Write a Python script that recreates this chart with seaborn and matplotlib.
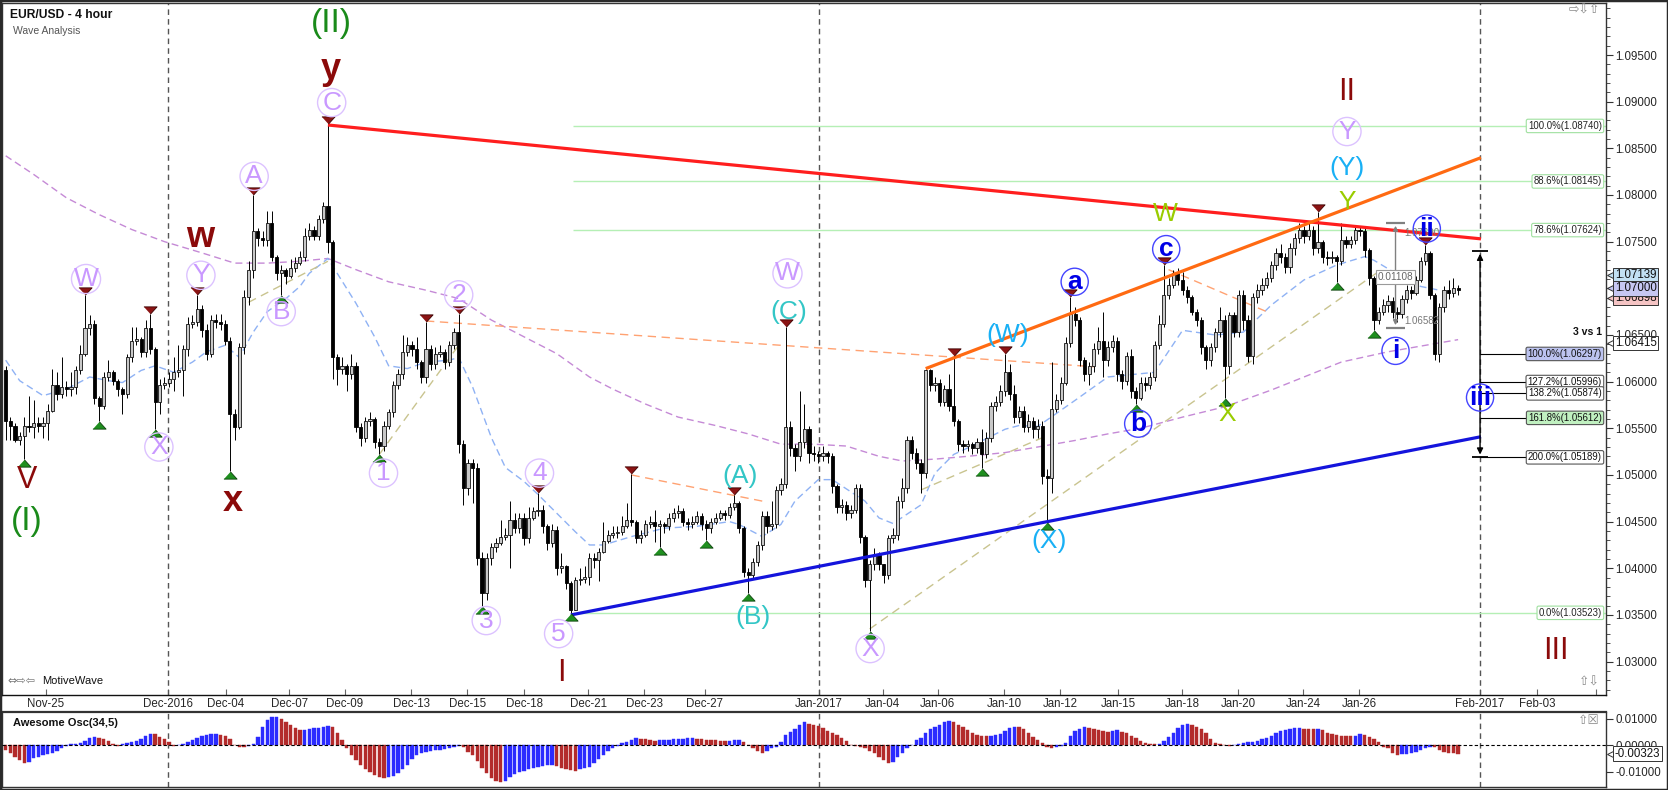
import numpy as np
import matplotlib
matplotlib.use("Agg")
import matplotlib.pyplot as plt
from matplotlib.transforms import offset_copy
from matplotlib.patches import Rectangle
from matplotlib.ticker import MultipleLocator, FormatStrFormatter, FixedLocator
import seaborn as sns

sns.set_style("white")
plt.rcParams["font.family"] = ["Liberation Sans", "DejaVu Sans"]
plt.rcParams["axes.unicode_minus"] = False

# ---------------- data (prices in pips = price * 10000) ----------------
OPEN0 = 10612
CLOSE = [
    10558, 10553, 10538, 10542, 10553, 10551, 10556, 10553, 10556, 10569,
    10596, 10587, 10594, 10592, 10594, 10612, 10630, 10657, 10662, 10583,
    10574, 10605, 10610, 10601, 10592, 10587, 10626, 10644, 10646, 10632,
    10657, 10635, 10578, 10596, 10599, 10603, 10610, 10612, 10635, 10662,
    10664, 10678, 10655, 10630, 10666, 10664, 10662, 10644, 10565, 10551,
    10637, 10691, 10720, 10761, 10754, 10752, 10770, 10734, 10716, 10720,
    10713, 10722, 10727, 10734, 10756, 10763, 10756, 10774, 10788, 10750,
    10626, 10614, 10617, 10608, 10617, 10551, 10540, 10558, 10560, 10535,
    10531, 10553, 10567, 10596, 10608, 10632, 10639, 10635, 10621, 10605,
    10635, 10619, 10630, 10632, 10621, 10639, 10653, 10533, 10486, 10513,
    10508, 10411, 10373, 10411, 10423, 10427, 10434, 10436, 10452, 10443,
    10454, 10432, 10454, 10461, 10463, 10445, 10427, 10441, 10400, 10402,
    10384, 10355, 10387, 10389, 10391, 10411, 10409, 10418, 10429, 10436,
    10438, 10439, 10445, 10452, 10450, 10432, 10436, 10447, 10450, 10445,
    10447, 10445, 10454, 10459, 10461, 10450, 10447, 10450, 10456, 10447,
    10443, 10450, 10454, 10459, 10457, 10466, 10470, 10443, 10396, 10393,
    10407, 10425, 10456, 10445, 10447, 10484, 10490, 10551, 10529, 10520,
    10535, 10549, 10524, 10522, 10520, 10524, 10520, 10488, 10466, 10468,
    10459, 10463, 10486, 10434, 10387, 10405, 10414, 10405, 10393, 10432,
    10436, 10472, 10486, 10538, 10524, 10513, 10502, 10612, 10596, 10599,
    10578, 10592, 10574, 10558, 10533, 10531, 10533, 10529, 10535, 10522,
    10540, 10574, 10578, 10590, 10610, 10587, 10562, 10569, 10551, 10558,
    10549, 10553, 10499, 10497, 10571, 10580, 10599, 10641, 10673, 10666,
    10623, 10608, 10617, 10635, 10644, 10623, 10637, 10644, 10608, 10601,
    10628, 10590, 10583, 10599, 10596, 10605, 10639, 10662, 10693, 10704,
    10716, 10709, 10698, 10691, 10675, 10666, 10637, 10623, 10637, 10653,
    10666, 10617, 10671, 10653, 10693, 10666, 10628, 10691, 10698, 10704,
    10711, 10725, 10738, 10734, 10723, 10743, 10754, 10763, 10756, 10763,
    10743, 10750, 10734, 10732, 10734, 10729, 10752, 10747, 10752, 10763,
    10761, 10741, 10711, 10666, 10675, 10682, 10686, 10675, 10673, 10689,
    10698, 10695, 10709, 10729, 10738, 10693, 10630, 10680, 10698, 10695,
    10700, 10698]
HIGH = [
    10617, 10562, 10556, 10546, 10562, 10585, 10580, 10562, 10562, 10576,
    10614, 10610, 10626, 10601, 10610, 10617, 10639, 10693, 10671, 10666,
    10585, 10610, 10623, 10612, 10603, 10594, 10630, 10659, 10659, 10648,
    10666, 10673, 10637, 10603, 10605, 10610, 10626, 10639, 10639, 10669,
    10671, 10693, 10682, 10662, 10671, 10673, 10673, 10666, 10648, 10571,
    10641, 10698, 10729, 10800, 10765, 10761, 10783, 10783, 10736, 10725,
    10722, 10731, 10734, 10740, 10765, 10770, 10767, 10779, 10792, 10876,
    10752, 10630, 10626, 10619, 10630, 10621, 10556, 10562, 10567, 10562,
    10540, 10558, 10571, 10601, 10614, 10650, 10648, 10644, 10648, 10623,
    10664, 10639, 10637, 10639, 10635, 10644, 10657, 10673, 10538, 10517,
    10517, 10513, 10418, 10416, 10427, 10432, 10452, 10443, 10472, 10459,
    10459, 10459, 10466, 10466, 10481, 10468, 10447, 10447, 10445, 10416,
    10404, 10386, 10391, 10400, 10402, 10416, 10416, 10422, 10450, 10441,
    10445, 10445, 10456, 10470, 10501, 10452, 10441, 10452, 10456, 10463,
    10452, 10450, 10459, 10465, 10468, 10465, 10454, 10456, 10461, 10459,
    10452, 10454, 10459, 10463, 10463, 10470, 10479, 10472, 10445, 10400,
    10411, 10429, 10461, 10461, 10472, 10488, 10497, 10659, 10558, 10533,
    10590, 10576, 10553, 10531, 10526, 10531, 10526, 10524, 10490, 10474,
    10472, 10468, 10490, 10490, 10436, 10409, 10422, 10418, 10405, 10436,
    10443, 10477, 10497, 10542, 10542, 10529, 10517, 10614, 10614, 10605,
    10603, 10596, 10608, 10628, 10560, 10538, 10538, 10535, 10540, 10549,
    10546, 10578, 10585, 10596, 10630, 10619, 10596, 10574, 10574, 10565,
    10562, 10560, 10558, 10506, 10621, 10587, 10605, 10648, 10691, 10680,
    10669, 10626, 10621, 10641, 10659, 10675, 10644, 10650, 10648, 10612,
    10632, 10635, 10594, 10605, 10605, 10610, 10644, 10671, 10725, 10711,
    10720, 10722, 10718, 10702, 10693, 10678, 10669, 10639, 10641, 10657,
    10680, 10671, 10675, 10675, 10698, 10698, 10671, 10695, 10705, 10711,
    10718, 10729, 10743, 10747, 10738, 10749, 10759, 10770, 10767, 10770,
    10767, 10782, 10752, 10740, 10740, 10736, 10770, 10756, 10756, 10767,
    10767, 10765, 10743, 10713, 10680, 10689, 10693, 10691, 10680, 10693,
    10704, 10702, 10713, 10734, 10746, 10740, 10695, 10684, 10702, 10709,
    10711, 10704]
LOW = [
    10538, 10538, 10535, 10532, 10517, 10546, 10540, 10546, 10540, 10538,
    10567, 10580, 10583, 10585, 10585, 10587, 10608, 10628, 10650, 10576,
    10558, 10571, 10601, 10596, 10585, 10565, 10583, 10621, 10639, 10626,
    10626, 10630, 10549, 10565, 10592, 10594, 10590, 10605, 10585, 10628,
    10657, 10660, 10648, 10623, 10626, 10657, 10655, 10639, 10504, 10538,
    10549, 10630, 10682, 10711, 10745, 10745, 10745, 10729, 10709, 10693,
    10705, 10711, 10718, 10725, 10729, 10752, 10752, 10752, 10770, 10738,
    10603, 10596, 10608, 10590, 10603, 10546, 10531, 10535, 10553, 10529,
    10522, 10526, 10549, 10562, 10592, 10603, 10628, 10628, 10614, 10599,
    10599, 10612, 10614, 10626, 10614, 10617, 10635, 10524, 10468, 10479,
    10470, 10404, 10360, 10366, 10404, 10418, 10425, 10430, 10400, 10438,
    10438, 10425, 10427, 10452, 10456, 10438, 10420, 10423, 10393, 10395,
    10378, 10352, 10356, 10382, 10384, 10382, 10400, 10386, 10416, 10427,
    10432, 10432, 10436, 10443, 10445, 10427, 10427, 10434, 10443, 10428,
    10423, 10438, 10441, 10450, 10454, 10445, 10441, 10443, 10447, 10441,
    10430, 10438, 10447, 10452, 10452, 10454, 10463, 10438, 10391, 10373,
    10389, 10402, 10420, 10438, 10441, 10443, 10479, 10486, 10520, 10504,
    10515, 10529, 10513, 10515, 10513, 10515, 10513, 10481, 10459, 10459,
    10452, 10454, 10459, 10427, 10380, 10333, 10398, 10398, 10384, 10389,
    10427, 10430, 10465, 10481, 10517, 10506, 10481, 10497, 10590, 10590,
    10574, 10574, 10569, 10553, 10526, 10524, 10526, 10522, 10524, 10508,
    10518, 10535, 10569, 10574, 10585, 10580, 10556, 10556, 10546, 10546,
    10540, 10540, 10490, 10450, 10481, 10567, 10576, 10596, 10637, 10660,
    10617, 10601, 10596, 10610, 10630, 10605, 10617, 10632, 10601, 10592,
    10596, 10583, 10576, 10580, 10590, 10592, 10601, 10635, 10659, 10689,
    10700, 10704, 10693, 10684, 10671, 10660, 10630, 10614, 10617, 10632,
    10648, 10583, 10608, 10648, 10648, 10655, 10621, 10619, 10684, 10693,
    10700, 10707, 10720, 10727, 10716, 10716, 10736, 10749, 10749, 10752,
    10736, 10738, 10727, 10725, 10727, 10707, 10725, 10743, 10743, 10747,
    10756, 10734, 10704, 10655, 10662, 10671, 10675, 10668, 10664, 10668,
    10684, 10689, 10693, 10707, 10725, 10689, 10623, 10621, 10675, 10689,
    10691, 10693]

# Awesome Oscillator (34,5), in pips
AO = [
    -18, -30, -43, -56, -66, -62, -49, -43, -37, -33,
    -28, -20, -11, -3, 4, 5, 10, 16, 27, 30,
    28, 24, 16, 6, -1, 5, 8, 11, 18, 25,
    36, 44, 42, 30, 23, 13, -1, 3, 4, 11,
    20, 29, 36, 39, 42, 43, 39, 36, 24, 3,
    -5, -8, -3, 4, 33, 68, 96, 107, 109, 99,
    90, 77, 67, 58, 60, 62, 65, 67, 70, 73,
    68, 46, 20, -11, -37, -56, -75, -90, -101, -113,
    -120, -123, -120, -117, -106, -91, -75, -53, -38, -30,
    -24, -20, -19, -16, -14, -11, -5, -3, -8, -24,
    -37, -58, -85, -106, -125, -135, -141, -134, -122, -110,
    -103, -97, -91, -86, -81, -77, -76, -75, -79, -85,
    -89, -94, -96, -91, -87, -81, -66, -52, -37, -20,
    -10, -3, 10, 14, 20, 27, 25, 23, 20, 16,
    19, 20, 22, 23, 24, 25, 27, 28, 25, 24,
    22, 20, 19, 18, 16, 18, 20, 22, 11, 0,
    -11, -22, -30, -20, -11, -5, 14, 39, 52, 61,
    77, 90, 81, 77, 73, 65, 56, 48, 39, 27,
    18, 1, -3, -5, -11, -20, -30, -43, -56, -66,
    -62, -43, -30, -11, 1, 20, 29, 46, 61, 68,
    77, 90, 92, 89, 79, 68, 58, 46, 38, 35,
    34, 35, 39, 44, 56, 66, 71, 70, 61, 46,
    33, 20, 8, -5, -11, -5, -3, 8, 35, 54,
    63, 68, 65, 62, 58, 56, 52, 54, 57, 52,
    46, 37, 29, 16, 10, 6, 4, 5, 16, 30,
    48, 65, 76, 81, 77, 68, 61, 46, 23, 10,
    5, 0, -3, 1, 6, 9, 11, 14, 18, 23,
    27, 34, 46, 53, 58, 62, 65, 66, 63, 62,
    61, 62, 57, 48, 43, 39, 37, 35, 34, 37,
    42, 39, 32, 24, 14, -5, -11, -30, -37, -35,
    -34, -30, -24, -18, -11, -5, -8, -18, -24, -28,
    -30, -32.3]

# moving averages (bar index, pips)
MA_FAST_IDX = [0, 3, 8, 13, 18, 22, 25, 29, 32, 36, 40, 43, 47, 50, 53, 56, 60, 63, 65, 69,
               75, 79, 82, 86, 90, 95, 97, 100, 104, 107, 111, 114, 118, 122, 125, 128, 134,
               141, 148, 155, 157, 162, 166, 169, 174, 177, 184, 187, 190, 196, 199, 203,
               206, 214, 217, 221, 229, 236, 242, 246, 252, 259, 265, 271, 278, 285, 291,
               293, 300, 303, 307]
MA_FAST = [10623, 10601, 10585, 10592, 10605, 10601, 10599, 10612, 10617, 10610, 10621,
           10632, 10639, 10626, 10653, 10675, 10689, 10702, 10716, 10732, 10684, 10648,
           10617, 10614, 10621, 10623, 10626, 10594, 10540, 10508, 10493, 10479, 10459,
           10439, 10425, 10425, 10434, 10443, 10445, 10450, 10447, 10434, 10447, 10472,
           10495, 10495, 10472, 10454, 10448, 10468, 10502, 10522, 10529, 10549, 10553,
           10552, 10580, 10605, 10608, 10610, 10655, 10650, 10653, 10682, 10709, 10725,
           10734, 10730, 10709, 10702, 10698]
MA_SLOW_IDX = [0, 6, 13, 20, 27, 34, 42, 49, 56, 63, 69, 75, 82, 90, 97, 104, 111, 118, 125,
               130, 137, 144, 152, 159, 166, 173, 180, 187, 192, 199, 206, 214, 221, 229,
               236, 243, 252, 261, 271, 279, 286, 296, 311]
MA_SLOW = [10842, 10822, 10797, 10779, 10763, 10750, 10738, 10727, 10727, 10729, 10732,
           10720, 10707, 10698, 10689, 10666, 10648, 10630, 10605, 10592, 10576, 10562,
           10553, 10544, 10533, 10533, 10531, 10520, 10515, 10517, 10520, 10524, 10530,
           10537, 10544, 10550, 10562, 10573, 10591, 10607, 10621, 10632, 10645]

TICK_LABELS = ["Nov-25", "Dec-2016", "Dec-04", "Dec-07", "Dec-09", "Dec-13", "Dec-15",
               "Dec-18", "Dec-21", "Dec-23", "Dec-27", "Jan-2017", "Jan-04", "Jan-06",
               "Jan-10", "Jan-12", "Jan-15", "Jan-18", "Jan-20", "Jan-24", "Jan-26",
               "Feb-2017", "Feb-03", ""]
TICK_POS = [8.6, 34.75, 47.2, 60.7, 72.6, 86.8, 98.8, 111.0, 124.7, 136.7, 149.7, 174.1,
            187.8, 199.6, 213.8, 225.8, 238.2, 251.9, 263.9, 277.8, 289.8, 315.7, 327.9, 340.6]
MONTH_POS = [34.75, 174.1, 315.7]

TOPS = [17, 31, 41, 53, 69, 90, 97, 114, 134, 156, 167, 203, 214, 228, 248, 281, 304]
BOTTOMS = [4, 20, 32, 48, 59, 80, 102, 121, 140, 150, 159, 185, 209, 223, 242, 261, 285, 293]

# trend / channel lines: (x0, price0, x1, price1)
TREND_RED = (69, 1.0875, 315.9, 1.0753)
TREND_ORANGE = (197, 1.0614, 315.9, 1.0840)
TREND_BLUE = (121, 1.0350, 315.9, 1.0541)
ORANGE_DASH = [(90, 1.0665, 233, 1.0616), (134, 1.0500, 162, 1.0472), (249, 1.0720, 270, 1.0675)]
TAN_DASH = [(52, 1.0685, 69, 1.0729), (80, 1.0522, 97, 1.0639),
            (185, 1.0335, 294, 1.0718), (196, 1.0484, 222, 1.0540)]

FIB_LEVELS = [1.08740, 1.08145, 1.07624, 1.03523]
FIB_TAGS = ["100.0%", "88.6%", "78.6%", "0.0%"]
FIB_START = 121.5

PROJ_X = 315.7
PROJ_TOP = 1.0740
PROJ_LEVELS = [1.06297, 1.05996, 1.05874, 1.05612, 1.05189]
PROJ_TAGS = ["100.0%", "127.2%", "138.2%", "161.8%", "200.0%"]
PROJ_FILL = ["#bcc3f0", "white", "white", "#c0f0c0", "white"]

MEAS_X, MEAS_TOP, MEAS_BOT = 297.6, 1.0770, 1.06575
MEAS_VALUE, MEAS_TOP_TXT, MEAS_BOT_TXT = "0.01108", "1.07690", "1.06582"

PRICE_TAGS = [1.06898, 1.07139, 1.07000, 1.06415]
PRICE_TAG_FILL = ["#f5c4c4", "#c2e0f2", "#c6c7f2", "white"]
AO_LAST = -0.00323

LABEL_TEXT = ["V", "(I)", "W", "X", "w", "Y", "x", "A", "B", "(II)", "y", "C", "1", "2",
              "3", "4", "5", "I", "(A)", "(B)", "W", "(C)", "X", "(W)", "(X)", "a", "b",
              "W", "c", "X", "II", "Y", "(Y)", "Y", "i", "ii", "iii", "III"]
LABEL_X = [4.5, 4.5, 17.2, 32.8, 41.6, 41.8, 48.6, 53.2, 59.0, 69.8, 69.6, 69.8, 80.9, 97.0,
           102.9, 114.3, 118.4, 118.9, 157.3, 160.0, 167.4, 167.6, 185.1, 214.6, 223.4,
           228.9, 242.5, 248.4, 248.5, 261.5, 287.2, 287.2, 287.2, 287.2, 297.6, 304.3,
           315.7, 331.9]
LABEL_Y = [1.0495, 1.0450, 1.0710, 1.0530, 1.0754, 1.0714, 1.0472, 1.0820, 1.0675, 1.0984,
           1.0935, 1.0899, 1.0502, 1.0693, 1.0344, 1.0502, 1.0330, 1.0288, 1.0499, 1.0348,
           1.0716, 1.0675, 1.0314, 1.0650, 1.0429, 1.0707, 1.0555, 1.0780, 1.0742, 1.0565,
           1.0910, 1.0868, 1.0829, 1.0793, 1.0633, 1.0764, 1.0583, 1.0311]
LABEL_KIND = ["dred", "green", "purple", "purple", "dred_lc", "purple", "dred_lc", "purple",
              "purple", "green", "dred_lc", "purple", "purple", "purple", "purple", "purple",
              "purple", "dred", "teal", "teal", "purple", "teal", "purple", "sky", "sky",
              "blue", "blue", "lime", "blue", "lime", "dred", "purple", "sky", "lime",
              "blue", "blue", "blue", "dred"]

STYLE = {
    "purple": dict(color="#c998ff", size=19, weight="normal", circle="#dcc2ff", pad=0.08),
    "blue": dict(color="#0000e6", size=19, weight="bold", circle="#4444ff", pad=0.06),
    "teal": dict(color="#33c6c6", size=19, weight="normal"),
    "sky": dict(color="#19b0f5", size=19, weight="normal"),
    "lime": dict(color="#99cc00", size=19, weight="normal"),
    "dred": dict(color="#8b0a0a", size=22, weight="normal"),
    "dred_lc": dict(color="#8b0a0a", size=26, weight="bold"),
    "green": dict(color="#1a8a1a", size=24, weight="normal"),
}

# ---------------- figure layout ----------------
W_PX, H_PX, DPI = 1668, 790, 100
fig = plt.figure(figsize=(W_PX / DPI, H_PX / DPI), dpi=DPI, facecolor="white")


def fx(px):
    return px / W_PX


def fy(py):
    return 1 - py / H_PX


ax = fig.add_axes([fx(2), fy(695), fx(1606) - fx(2), (695 - 3) / H_PX])
ax2 = fig.add_axes([fx(2), fy(787), fx(1606) - fx(2), (787 - 712) / H_PX])
XLIM = (-0.79, 342.67)
YLIM = (1.026424, 1.100572)

x = np.arange(len(CLOSE))
c = np.array(CLOSE) / 1e4
hi = np.array(HIGH) / 1e4
lo = np.array(LOW) / 1e4
o = np.concatenate([[OPEN0 / 1e4], c[:-1]])
hi = np.maximum(hi, np.maximum(o, c))
lo = np.minimum(lo, np.minimum(o, c))
up = c >= o
bottom = np.minimum(o, c)
body = np.maximum(np.abs(c - o), 0.00004)

# month separators
for m in MONTH_POS:
    ax.axvline(m, color="#555555", lw=1, ls=(0, (4, 3)), zorder=1)
    ax2.axvline(m, color="#555555", lw=1, ls=(0, (4, 3)), zorder=1)

# fib retracement lines
for lvl, tag in zip(FIB_LEVELS, FIB_TAGS):
    ax.hlines(lvl, FIB_START, XLIM[1], color="#b5efb5", lw=1, zorder=1)
    ax.text(0.9975, lvl, f"{tag}({lvl:.5f})", transform=ax.get_yaxis_transform(),
            ha="right", va="center", fontsize=6.9, color="#222222", zorder=9,
            bbox=dict(boxstyle="round,pad=0.18", fc="white", ec="#9fe09f", lw=0.8))

# moving averages (seaborn)
sns.lineplot(x=np.array(MA_SLOW_IDX), y=np.array(MA_SLOW) / 1e4, ax=ax, color="#c58ad6",
             lw=1, linestyle=(0, (5, 3)), zorder=2)
sns.lineplot(x=np.array(MA_FAST_IDX), y=np.array(MA_FAST) / 1e4, ax=ax, color="#8fb2f4",
             lw=1, linestyle=(0, (5, 3)), zorder=2)

# thin dashed helper lines
for (x0, p0, x1, p1) in ORANGE_DASH:
    ax.plot([x0, x1], [p0, p1], color="#ffa272", lw=1, ls=(0, (6, 4)), zorder=2)
for (x0, p0, x1, p1) in TAN_DASH:
    ax.plot([x0, x1], [p0, p1], color="#c9c48f", lw=1, ls=(0, (6, 4)), zorder=2)

# candles
ax.vlines(x, lo, hi, colors="black", lw=0.7, zorder=3)
ax.bar(x[up], body[up], bottom=bottom[up], width=0.68, color="#c8c8c8", edgecolor="#111111",
       linewidth=0.6, zorder=4)
ax.bar(x[~up], body[~up], bottom=bottom[~up], width=0.68, color="black", edgecolor="black",
       linewidth=0.6, zorder=4)

# main trend lines
for (x0, p0, x1, p1), col in [(TREND_RED, "#ff1e1e"), (TREND_ORANGE, "#ff6a12"),
                              (TREND_BLUE, "#1414dc")]:
    ax.plot([x0, x1], [p0, p1], color=col, lw=2.3, solid_capstyle="butt", zorder=5)

# swing markers
tri_dn = [(-1, 0.55), (1, 0.55), (0, -0.55)]
tri_up = [(-1, -0.55), (1, -0.55), (0, 0.55)]
tr_up = offset_copy(ax.transData, fig=fig, y=4, units="dots")
tr_dn = offset_copy(ax.transData, fig=fig, y=-4, units="dots")
ax.plot(np.array(TOPS), hi[TOPS], ls="none", marker=tri_dn, ms=9.5, mfc="#8b1414",
        mec="#3a0000", mew=0.6, transform=tr_up, zorder=7)
ax.plot(np.array(BOTTOMS), lo[BOTTOMS], ls="none", marker=tri_up, ms=9.5, mfc="#1f8f1f",
        mec="#0b400b", mew=0.6, transform=tr_dn, zorder=7)

# measurement tool near wave i
ax.annotate("", xy=(MEAS_X, MEAS_TOP), xytext=(MEAS_X, MEAS_BOT),
            arrowprops=dict(arrowstyle="<|-|>", color="#808080", lw=1, mutation_scale=7),
            zorder=6)
ax.hlines([MEAS_TOP, MEAS_BOT], MEAS_X - 2, MEAS_X + 2, color="#808080", lw=1.6, zorder=6)
ax.text(MEAS_X, 1.0712, MEAS_VALUE, ha="center", va="center", fontsize=7.2, color="#666666",
        zorder=9, bbox=dict(boxstyle="square,pad=0.2", fc="white", ec="#9a9a9a", lw=0.8))
ax.text(MEAS_X + 1.8, MEAS_BOT + 0.00075, MEAS_BOT_TXT, ha="left", va="center", fontsize=7,
        color="#777777", zorder=6)
ax.text(MEAS_X + 1.8, MEAS_TOP - 0.0011, MEAS_TOP_TXT, ha="left", va="center", fontsize=7,
        color="#777777", zorder=6)

# projection ruler at the Feb line
ax.annotate("", xy=(PROJ_X, PROJ_TOP), xytext=(PROJ_X, PROJ_LEVELS[-1]),
            arrowprops=dict(arrowstyle="<|-|>", color="black", lw=1, mutation_scale=9),
            zorder=6)
ax.hlines([PROJ_TOP, PROJ_LEVELS[-1]], PROJ_X - 1.8, PROJ_X + 1.8, color="black", lw=1.3,
          zorder=6)
for lvl, tag, fc in zip(PROJ_LEVELS, PROJ_TAGS, PROJ_FILL):
    ax.hlines(lvl, PROJ_X, XLIM[1] - 5, color="black", lw=0.8, zorder=6)
    ax.text(0.9975, lvl, f"{tag}({lvl:.5f})", transform=ax.get_yaxis_transform(),
            ha="right", va="center", fontsize=6.9, color="#111111", zorder=9,
            bbox=dict(boxstyle="round,pad=0.18", fc=fc, ec="#555555", lw=0.8))
ax.text(0.9975, 1.0648, "3 vs 1", transform=ax.get_yaxis_transform(), ha="right",
        va="bottom", fontsize=7.6, fontweight="bold", color="#111111", zorder=9)

# wave labels
for txt, lx, ly, kind in zip(LABEL_TEXT, LABEL_X, LABEL_Y, LABEL_KIND):
    st = STYLE[kind]
    bbox = None
    if "circle" in st:
        bbox = dict(boxstyle=f"circle,pad={st['pad']}", fc="none", ec=st["circle"], lw=1.0)
    ax.text(lx, ly, txt, color=st["color"], fontsize=st["size"], fontweight=st["weight"],
            ha="center", va="center", bbox=bbox, zorder=8)

# axes styling: main
ax.set_xlim(*XLIM)
ax.set_ylim(*YLIM)
ax.set_xlabel("")
ax.set_ylabel("")
ax.yaxis.tick_right()
ax.yaxis.set_major_locator(FixedLocator(np.round(np.arange(1.030, 1.0951, 0.005), 3)))
ax.yaxis.set_minor_locator(MultipleLocator(0.001))
ax.yaxis.set_major_formatter(FormatStrFormatter("%.5f"))
ax.set_xticks(TICK_POS)
ax.set_xticklabels(TICK_LABELS)
ax.tick_params(axis="y", which="major", direction="out", length=5, width=0.8, color="#333333",
               labelsize=8.3, pad=1.5, right=True, left=False)
ax.tick_params(axis="y", which="minor", direction="out", length=3, width=0.6, color="#333333",
               right=True, left=False)
ax.tick_params(axis="x", which="major", direction="in", length=4, width=0.8, color="#666666",
               labelsize=8.3, pad=2.2, bottom=True)
for name, sp in ax.spines.items():
    sp.set_visible(True)
    sp.set_color("#333333")
    sp.set_linewidth(1.0)
ax.spines["bottom"].set_color("#111111")

# price tags on the right axis (box plus a small left pointer)
for val, fc in zip(PRICE_TAGS, PRICE_TAG_FILL):
    ax.text(1.0055, val, f"{val:.5f}", transform=ax.get_yaxis_transform(), ha="left",
            va="center", fontsize=8.3, color="#111111", zorder=10, clip_on=False,
            bbox=dict(boxstyle="square,pad=0.12", fc=fc, ec="#333333", lw=0.7))
    ax.plot([1.0028], [val], marker="<", ms=5, mfc=fc, mec="#333333", mew=0.7,
            transform=ax.get_yaxis_transform(), clip_on=False, zorder=11)

# oscillator
ao = np.array(AO) / 1e4
rising = np.concatenate([[False], ao[1:] > ao[:-1]])
cols = np.where(rising, "#2b2bff", "#b32b2b")
ax2.bar(x, ao, width=0.72, color=cols, edgecolor=cols, linewidth=0.3, zorder=3)
ax2.axhline(0, color="black", lw=0.8, ls=(0, (3, 2)), zorder=4)
ax2.set_xlim(*XLIM)
ax2.set_ylim(-0.01586, 0.01266)
ax2.yaxis.tick_right()
ax2.set_yticks([-0.01, 0.0, 0.01])
ax2.yaxis.set_major_formatter(FormatStrFormatter("%.5f"))
ax2.set_xticks([])
ax2.tick_params(axis="y", direction="out", length=5, width=0.8, color="#333333",
                labelsize=8.3, pad=1.5, right=True, left=False)
for name, sp in ax2.spines.items():
    sp.set_visible(True)
    sp.set_color("#333333")
    sp.set_linewidth(1.0)
ax2.spines["top"].set_linewidth(1.6)
ax2.text(1.0055, AO_LAST, f"{AO_LAST:.5f}", transform=ax2.get_yaxis_transform(), ha="left",
         va="center", fontsize=8.3, color="#111111", zorder=10, clip_on=False,
         bbox=dict(boxstyle="square,pad=0.12", fc="white", ec="#333333", lw=0.7))
ax2.plot([1.0028], [AO_LAST], marker="<", ms=5, mfc="white", mec="#333333", mew=0.7,
         transform=ax2.get_yaxis_transform(), clip_on=False, zorder=11)
ax2.text(11 / 1604, 0.86, "Awesome Osc(34,5)", transform=ax2.transAxes, ha="left",
         va="center", fontsize=8, fontweight="bold", color="#111111")

# header texts and small icons
fig.text(fx(10), fy(15), "EUR/USD - 4 hour", ha="left", va="center", fontsize=8.7,
         fontweight="bold", color="#111111")
fig.text(fx(13), fy(31), "Wave Analysis", ha="left", va="center", fontsize=7.5,
         color="#555555")
fig.text(fx(7), fy(681), "\u21d4\u21e8\u21e6", ha="left", va="center", fontsize=8,
         color="#777777", family=["DejaVu Sans"])
fig.text(fx(42), fy(681), "MotiveWave", ha="left", va="center", fontsize=8, color="#111111")
fig.text(fx(1600), fy(10), "\u21e8\u21e9\u21e7", ha="right", va="center", fontsize=9,
         color="#888888", family=["DejaVu Sans"])
fig.text(fx(1600), fy(682), "\u21e7\u21e9", ha="right", va="center", fontsize=9,
         color="#888888", family=["DejaVu Sans"])
fig.text(fx(1600), fy(720), "\u21e7\u2612", ha="right", va="center", fontsize=9,
         color="#888888", family=["DejaVu Sans"])

fig.patches.append(Rectangle((0, 0), 1, 1, transform=fig.transFigure, fill=False,
                             ec="#2a2a2a", lw=2.5))

fig.savefig("out.png", dpi=DPI, facecolor="white")
